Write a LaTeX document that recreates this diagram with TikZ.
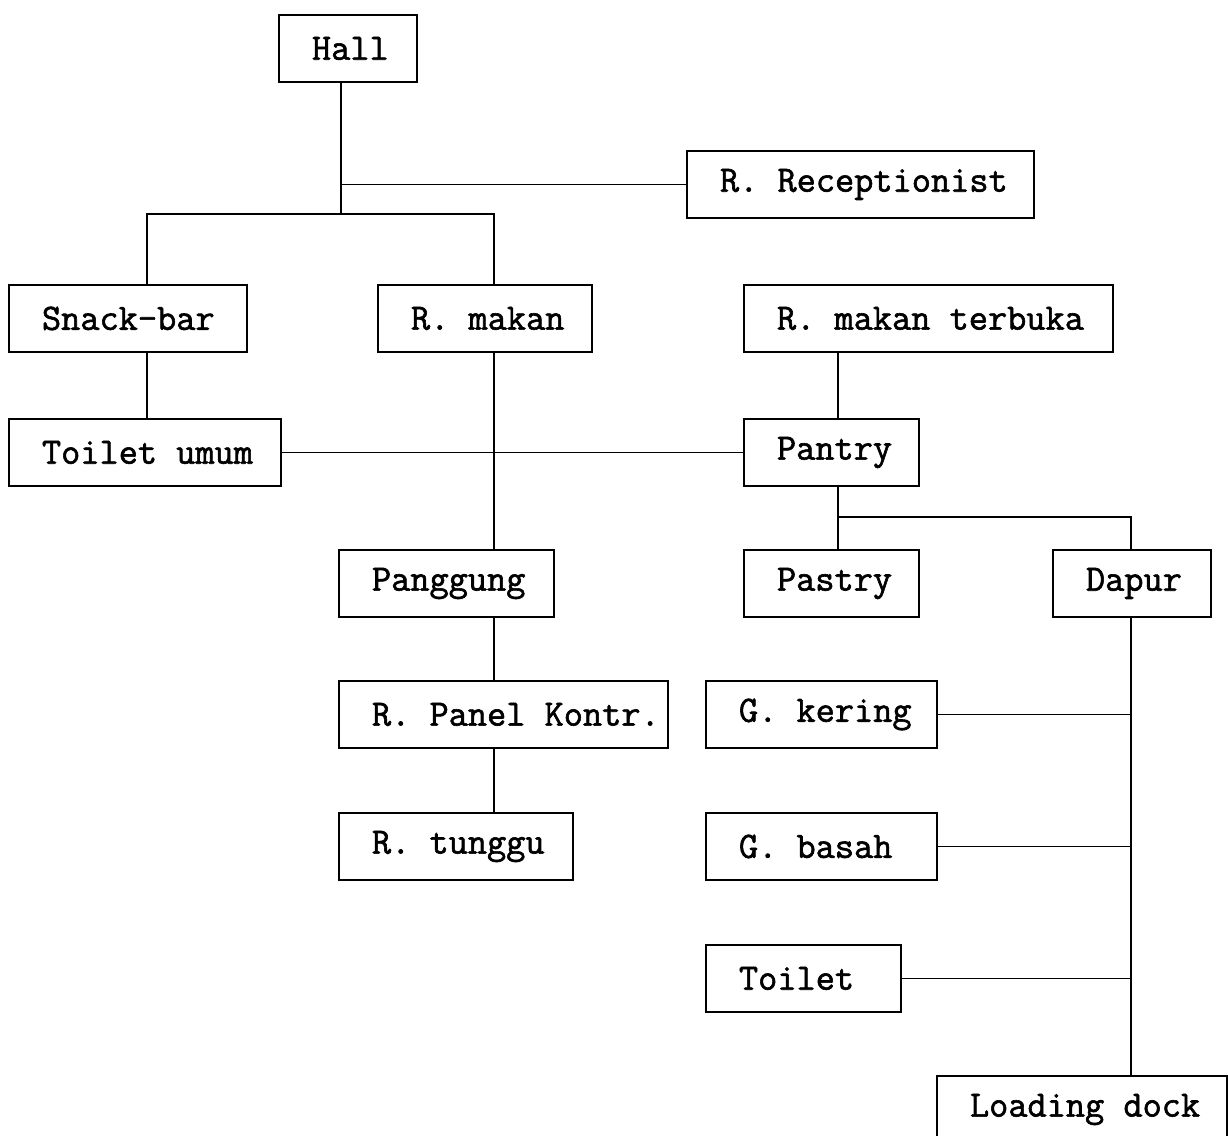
\documentclass[tikz,border=0pt]{standalone}
\usepackage{fontspec}
\newfontfamily\dotfont[FakeBold=1.6,WordSpace={1,0,0}]{Latin Modern Mono}
\newcommand{\roomfont}{\dotfont\fontsize{21.2}{24}\selectfont\frenchspacing}
\begin{document}
\begin{tikzpicture}[
  box/.style={draw, line width=1.1pt, anchor=north west, inner sep=0pt,
              minimum height=1.34cm, text width=#1, align=flush left,
              font=\roomfont, execute at begin node={\hspace*{0.66cm}}},
  link/.style={line width=1.1pt}
]
  \useasboundingbox (0,0) rectangle (24.56,-22.72);

  % rooms
  \node[box=2.76cm] (hall)       at (5.56,-0.28)   {Hall};
  \node[box=6.94cm] (recep)      at (13.72,-3.00)  {R. Receptionist};
  \node[box=4.76cm] (snack)      at (0.16,-5.68)   {Snack-bar};
  \node[box=4.28cm] (makan)      at (7.54,-5.68)   {R. makan};
  \node[box=7.38cm] (terbuka)    at (14.86,-5.68)  {R. makan terbuka};
  \node[box=5.44cm] (toiletumum) at (0.16,-8.36)   {Toilet umum};
  \node[box=3.50cm] (pantry)     at (14.86,-8.36)  {Pantry};
  \node[box=4.30cm] (panggung)   at (6.76,-10.98)  {Panggung};
  \node[box=3.50cm] (pastry)     at (14.86,-10.98) {Pastry};
  \node[box=3.16cm] (dapur)      at (21.04,-10.98) {Dapur};
  \node[box=6.58cm] (panel)      at (6.76,-13.60)  {R. Panel Kontr.};
  \node[box=4.62cm] (kering)     at (14.10,-13.60) {G. kering};
  \node[box=4.68cm] (tunggu)     at (6.76,-16.24)  {R. tunggu};
  \node[box=4.62cm] (basah)      at (14.10,-16.24) {G. basah};
  \node[box=3.90cm] (toilet)     at (14.10,-18.88) {Toilet};
  \node[box=5.80cm] (loading)    at (18.72,-21.50) {Loading dock};

  % columns of the vertical links
  \coordinate (colA) at (2.94,0);
  \coordinate (colB) at (6.82,0);
  \coordinate (colC) at (9.88,0);
  \coordinate (colD) at (16.76,0);
  \coordinate (colE) at (22.62,0);
  \coordinate (split) at (6.82,-4.28);
  \coordinate (fork)  at (16.76,-10.34);

  % links
  \draw[link] (hall.south -| colB) -- (split);
  \draw[link] (colB |- recep.west) -- (recep.west);
  \draw[link] (snack.north -| colA) |- (split) -| (makan.north -| colC);
  \draw[link] (snack.south -| colA) -- (toiletumum.north -| colA);
  \draw[link] (makan.south -| colC) -- (panggung.north -| colC);
  \draw[link] (toiletumum.east) -- (pantry.west);
  \draw[link] (terbuka.south -| colD) -- (pantry.north -| colD);
  \draw[link] (pantry.south -| colD) -- (pastry.north -| colD);
  \draw[link] (fork) -| (dapur.north -| colE);
  \draw[link] (panggung.south -| colC) -- (panel.north -| colC);
  \draw[link] (panel.south -| colC) -- (tunggu.north -| colC);
  \draw[link] (dapur.south -| colE) -- (loading.north -| colE);
  \draw[link] (kering.east) -- (kering.east -| colE);
  \draw[link] (basah.east) -- (basah.east -| colE);
  \draw[link] (toilet.east) -- (toilet.east -| colE);
\end{tikzpicture}
\end{document}
